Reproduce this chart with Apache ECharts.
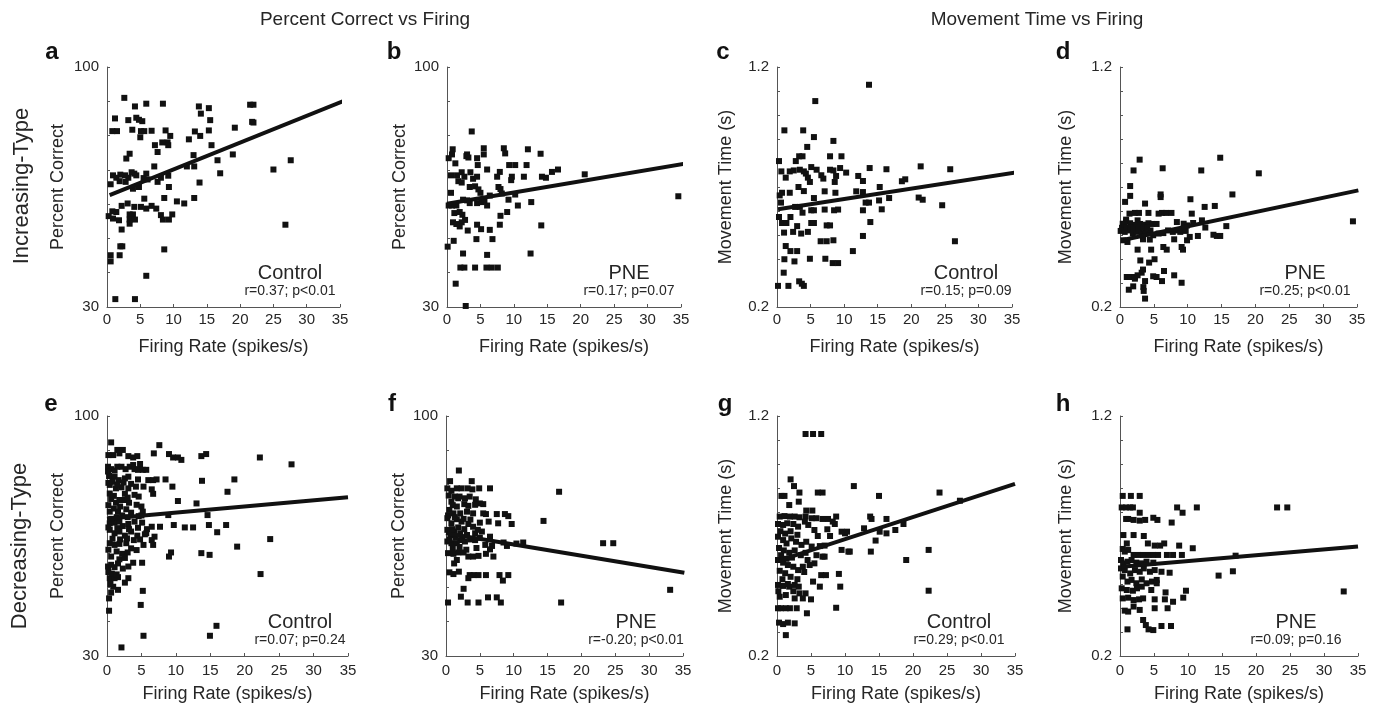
<!DOCTYPE html>
<html>
<head>
<meta charset="utf-8">
<title>Firing rate vs behaviour</title>
<script src="https://cdn.jsdelivr.net/npm/echarts@6/dist/echarts.min.js"></script>
<style>
  html, body { margin: 0; padding: 0; background: #fff; }
  #chart { width: 1378px; height: 707px; }
</style>
</head>
<body>
<div id="chart"></div>
<script>
// firing rate (spikes/s) vs percent correct / movement time, one array per panel
const ptsA = [[2.6,91.0],[4.2,88.5],[5.9,89.3],[8.4,89.3],[1.2,85.0],[3.2,84.5],[4.4,85.2],[4.8,84.6],[5.3,84.2],[0.8,81.3],[1.5,81.3],[3.8,81.7],[5.1,81.3],[5.6,81.3],[5.0,79.5],[6.7,81.4],[8.8,81.5],[9.5,79.9],[9.1,78.0],[8.3,78.0],[7.2,77.2],[7.6,75.2],[9.2,77.2],[3.4,74.7],[2.9,73.3],[7.1,71.0],[13.8,88.5],[14.1,86.4],[15.3,88.0],[15.5,84.5],[15.3,81.5],[13.2,81.2],[14.0,79.9],[12.3,78.9],[15.7,77.2],[13.0,74.3],[16.6,72.8],[18.9,74.5],[19.2,82.3],[21.5,89.0],[22.0,89.0],[21.8,84.0],[22.0,83.8],[27.6,72.8],[25.0,70.1],[26.8,54.0],[17.0,69.0],[13.1,71.0],[12.0,71.0],[13.9,66.3],[13.1,61.8],[11.6,60.2],[10.5,60.8],[8.6,61.8],[9.3,65.0],[9.2,68.3],[7.6,66.5],[8.1,67.7],[5.9,68.9],[5.5,67.6],[4.1,68.9],[4.4,68.4],[3.7,69.3],[3.2,67.7],[2.7,68.4],[2.0,68.6],[0.9,68.4],[1.4,67.7],[0.55,65.8],[2.8,66.5],[3.9,64.5],[4.8,65.0],[5.6,61.6],[6.7,59.5],[5.9,58.7],[5.1,59.2],[4.1,59.2],[3.1,60.2],[2.2,59.5],[1.4,57.7],[0.8,57.9],[0.25,56.5],[0.9,55.8],[1.8,55.3],[3.4,57.0],[3.9,57.0],[3.4,55.5],[4.2,55.5],[3.4,54.3],[2.2,52.6],[7.4,58.7],[8.1,56.8],[8.4,55.5],[9.3,55.5],[9.8,57.0],[2.0,47.7],[2.3,47.7],[0.55,45.1],[1.9,45.1],[0.55,43.3],[8.6,46.8],[5.9,39.1],[1.25,32.3],[4.2,32.3],[1.9,66.7],[6.1,67.2]];
const fitA = [[0.4,62.6],[35.8,90.3]];

const ptsB = [[3.7,81.2],[0.85,76.0],[0.25,73.4],[0.75,74.5],[1.25,71.9],[3.0,74.5],[2.9,74.0],[3.2,73.6],[4.5,73.4],[5.5,76.3],[5.5,74.5],[4.6,71.4],[8.5,76.3],[8.7,74.8],[12.1,76.0],[14.0,74.7],[9.3,71.4],[10.2,71.4],[11.9,71.4],[6.0,70.1],[7.9,69.4],[7.5,68.0],[9.7,68.0],[9.6,67.0],[11.5,68.0],[14.2,68.0],[14.8,67.7],[15.7,69.4],[16.6,70.1],[20.6,68.7],[34.6,62.3],[0.6,68.4],[1.5,68.4],[2.2,69.3],[2.6,68.0],[1.7,66.7],[2.2,66.3],[3.5,69.3],[3.9,67.4],[4.5,68.0],[3.4,65.0],[4.2,65.2],[4.7,64.3],[5.0,63.3],[0.6,63.3],[0.25,59.6],[0.75,59.6],[1.4,59.6],[2.4,61.3],[3.0,61.1],[3.4,60.3],[4.5,60.3],[5.2,60.6],[6.0,59.6],[5.6,61.1],[6.4,62.5],[7.7,65.0],[8.0,64.4],[8.2,63.1],[9.2,61.3],[10.2,62.8],[10.6,59.6],[12.6,60.6],[1.1,57.4],[1.9,57.7],[2.3,56.9],[2.7,55.4],[2.2,54.7],[1.9,53.5],[3.1,52.3],[0.9,54.7],[1.4,54.2],[9.0,57.7],[8.0,56.6],[7.9,54.0],[4.5,54.0],[5.1,52.7],[6.4,52.5],[14.1,53.8],[4.4,49.8],[6.8,49.8],[1.0,49.3],[0.1,47.6],[2.4,45.6],[6.0,45.2],[12.5,45.6],[2.0,41.5],[2.6,41.5],[4.2,41.5],[5.9,41.5],[6.7,41.5],[7.6,41.5],[1.3,36.8],[2.8,30.3]];
const fitB = [[0,60.1],[35.5,71.8]];

const ptsC = [[13.7,1.126],[5.7,1.058],[1.1,0.936],[3.9,0.936],[5.5,0.908],[8.4,0.892],[4.5,0.867],[0.3,0.808],[2.8,0.808],[3.3,0.828],[3.8,0.828],[7.9,0.828],[9.6,0.828],[0.65,0.765],[1.9,0.765],[2.5,0.769],[3.4,0.772],[4.0,0.765],[5.1,0.783],[5.9,0.772],[1.3,0.739],[4.3,0.756],[4.6,0.739],[4.9,0.721],[6.6,0.749],[6.9,0.735],[7.9,0.772],[8.4,0.769],[8.8,0.746],[8.6,0.721],[9.4,0.779],[10.3,0.760],[12.1,0.746],[12.8,0.725],[13.8,0.779],[16.3,0.774],[21.4,0.786],[25.8,0.774],[18.6,0.724],[19.1,0.732],[15.3,0.700],[3.2,0.700],[0.4,0.665],[0.75,0.676],[1.9,0.676],[4.0,0.683],[5.5,0.654],[7.1,0.682],[8.7,0.676],[11.8,0.682],[12.8,0.679],[13.2,0.635],[13.7,0.635],[15.2,0.644],[15.6,0.607],[16.7,0.654],[21.1,0.656],[21.7,0.647],[24.6,0.624],[0.6,0.635],[2.7,0.617],[3.4,0.617],[3.8,0.593],[5.1,0.603],[5.5,0.603],[7.1,0.606],[8.5,0.603],[9.1,0.606],[12.8,0.603],[0.3,0.575],[0.75,0.55],[1.4,0.55],[2.0,0.575],[3.0,0.537],[1.05,0.510],[2.4,0.513],[3.6,0.506],[4.6,0.513],[5.1,0.55],[5.5,0.55],[7.4,0.540],[7.9,0.540],[13.9,0.554],[12.8,0.496],[6.5,0.474],[7.4,0.474],[8.4,0.478],[1.3,0.454],[2.0,0.433],[3.0,0.433],[11.3,0.433],[26.5,0.474],[1.1,0.399],[2.6,0.390],[4.9,0.401],[7.2,0.401],[8.3,0.383],[9.1,0.383],[1.0,0.343],[3.3,0.307],[3.7,0.297],[4.0,0.288],[0.15,0.288],[1.7,0.288]];
const fitC = [[0.15,0.607],[35.5,0.760]];

const ptsD = [[2.9,0.814],[14.8,0.822],[2.0,0.769],[6.3,0.778],[12.0,0.769],[20.5,0.757],[1.5,0.704],[1.5,0.663],[0.75,0.638],[6.0,0.669],[6.0,0.658],[16.6,0.669],[10.4,0.649],[3.7,0.631],[12.5,0.617],[14.0,0.621],[2.2,0.592],[2.8,0.592],[4.2,0.592],[6.2,0.592],[6.8,0.592],[7.6,0.592],[1.4,0.589],[5.7,0.589],[10.6,0.589],[0.9,0.564],[2.6,0.561],[0.4,0.547],[0.9,0.557],[1.5,0.549],[2.3,0.542],[2.95,0.546],[3.6,0.543],[4.2,0.549],[4.8,0.546],[5.4,0.546],[8.4,0.554],[9.4,0.547],[9.9,0.540],[10.8,0.550],[12.1,0.561],[12.6,0.531],[15.7,0.537],[0.1,0.517],[0.7,0.513],[1.2,0.519],[1.9,0.506],[2.5,0.513],[3.2,0.508],[3.8,0.508],[4.5,0.519],[4.9,0.499],[5.7,0.506],[6.4,0.508],[7.1,0.519],[7.8,0.513],[8.5,0.519],[8.9,0.513],[9.7,0.517],[13.8,0.501],[14.3,0.496],[14.8,0.496],[11.5,0.496],[10.3,0.492],[0.5,0.478],[1.1,0.471],[3.4,0.482],[4.4,0.481],[8.0,0.482],[9.9,0.478],[2.6,0.439],[4.6,0.439],[6.4,0.450],[6.9,0.439],[9.1,0.450],[9.3,0.439],[3.0,0.394],[5.1,0.399],[4.3,0.385],[3.4,0.356],[3.2,0.343],[1.0,0.325],[1.5,0.325],[2.2,0.325],[2.6,0.332],[2.2,0.318],[3.7,0.308],[4.9,0.328],[5.4,0.325],[6.5,0.350],[6.2,0.308],[8.0,0.332],[9.1,0.301],[1.3,0.272],[1.95,0.286],[3.45,0.283],[3.5,0.267],[3.7,0.235],[34.4,0.557],[0.3,0.53],[0.6,0.545],[1.0,0.53],[1.6,0.53],[2.0,0.525],[2.8,0.525],[3.5,0.53],[4.0,0.53]];
const fitD = [[0.25,0.478],[35.2,0.686]];

const ptsE = [[0.6,92.3],[1.5,90.1],[2.3,90.1],[1.8,89.1],[0.9,88.6],[0.2,88.6],[3.1,88.3],[3.8,87.9],[4.4,88.3],[6.8,89.1],[7.6,91.5],[9.0,88.9],[9.6,87.9],[10.3,87.9],[10.8,87.2],[13.7,88.3],[14.4,88.9],[22.2,87.9],[26.8,85.9],[0.15,85.2],[0.6,84.5],[1.1,84.1],[1.5,85.2],[0.15,83.8],[2.1,85.2],[2.7,84.5],[3.3,85.2],[3.8,85.7],[4.0,84.5],[4.8,86.0],[4.5,84.3],[5.2,84.3],[5.7,84.3],[0.3,82.5],[1.1,82.3],[1.7,81.3],[2.6,81.8],[3.1,82.3],[4.5,81.5],[6.0,81.3],[6.7,81.3],[7.2,81.5],[8.5,81.5],[13.8,81.1],[18.5,81.5],[0.4,79.9],[1.3,78.9],[2.1,79.2],[3.1,78.9],[4.2,79.4],[5.3,79.4],[9.5,79.4],[6.5,78.6],[6.7,77.3],[17.5,77.9],[0.4,77.4],[1.0,76.7],[2.6,77.3],[4.0,77.0],[10.3,75.2],[13.0,74.5],[1.3,74.7],[2.6,75.5],[1.9,73.6],[3.2,74.7],[4.3,74.1],[0.4,72.1],[1.6,72.1],[2.8,72.8],[3.5,71.8],[5.0,73.6],[5.2,72.1],[14.6,71.1],[8.9,71.1],[0.4,68.7],[1.1,68.9],[1.8,69.2],[3.1,68.5],[4.0,69.2],[5.1,68.9],[6.5,67.7],[7.7,67.7],[9.7,68.2],[11.3,67.5],[12.5,67.5],[14.8,68.2],[16.0,66.1],[17.3,68.2],[23.7,64.1],[18.9,61.9],[0.4,66.8],[1.1,65.8],[1.8,66.3],[2.6,65.1],[3.5,66.3],[4.4,65.1],[5.7,65.8],[6.9,64.8],[6.5,63.8],[0.4,62.9],[1.1,62.4],[1.8,62.7],[2.8,62.9],[3.5,61.4],[4.3,60.9],[5.3,62.4],[6.7,62.4],[9.0,59.0],[9.3,60.2],[13.7,60.0],[14.9,59.5],[0.15,56.1],[0.6,56.6],[1.1,55.9],[1.6,57.0],[3.1,56.1],[3.8,57.2],[5.1,57.2],[22.3,53.9],[0.4,52.7],[1.1,52.7],[1.6,53.0],[2.6,51.4],[3.1,52.7],[0.9,50.2],[1.6,49.3],[0.3,46.8],[0.6,48.5],[5.2,49.0],[4.9,44.9],[0.3,43.2],[15.9,38.8],[5.3,35.9],[14.95,35.9],[2.1,32.5],[0.2,80.5],[0.8,80.8],[1.5,80.0],[2.4,80.6],[3.5,80.2],[0.6,75.8],[1.8,75.5],[3.0,76.2],[4.6,76.5],[0.2,74.0],[1.0,73.0],[2.2,71.0],[3.0,70.5],[4.6,70.8],[0.6,70.0],[1.4,70.5],[0.2,67.5],[1.5,67.3],[2.3,67.9],[3.2,67.0],[4.5,67.4],[5.8,67.0],[0.8,64.2],[1.9,64.0],[2.9,64.3],[3.9,63.8],[4.8,64.0],[5.5,65.5],[0.2,61.0],[1.4,60.5],[2.2,59.8],[3.0,60.2],[0.6,59.0],[1.8,58.2],[2.6,58.6],[0.2,54.5],[0.7,54.0],[1.4,53.8],[2.3,55.5],[0.5,51.0],[5.0,71.0]];
const fitE = [[0,70.0],[35,76.3]];

const ptsF = [[1.9,84.1],[0.6,81.0],[3.8,81.0],[0.2,78.9],[0.8,78.2],[1.6,78.9],[2.3,78.9],[3.2,78.9],[3.9,78.6],[4.9,78.9],[6.5,78.9],[16.7,77.9],[1.3,76.5],[1.8,76.0],[4.4,75.7],[5.0,74.5],[5.5,74.3],[0.8,75.0],[1.6,73.6],[2.7,74.3],[3.3,73.8],[4.3,74.1],[0.5,72.6],[1.1,71.6],[2.1,71.6],[3.1,72.1],[4.0,71.6],[5.5,71.6],[5.9,71.4],[7.5,71.4],[8.7,71.4],[9.2,70.8],[14.4,69.4],[9.7,68.5],[7.7,68.7],[0.2,70.2],[0.8,68.7],[1.6,69.9],[2.3,69.2],[3.3,68.5],[4.0,67.7],[5.0,68.9],[6.3,69.2],[0.2,66.8],[0.7,65.3],[1.2,66.3],[2.1,65.8],[3.1,65.3],[4.3,65.8],[5.3,66.3],[6.5,64.8],[0.2,63.4],[0.8,62.9],[1.6,62.9],[2.1,63.8],[2.8,63.4],[4.3,63.8],[5.8,62.4],[6.8,62.1],[8.5,63.1],[9.0,62.1],[10.4,62.8],[11.4,63.1],[23.2,62.9],[24.7,62.9],[0.3,60.0],[1.1,59.8],[1.8,60.2],[2.6,60.2],[3.3,59.0],[4.0,59.0],[4.8,59.2],[5.9,59.8],[6.5,61.1],[7.0,59.0],[1.2,57.0],[1.6,58.0],[0.5,54.4],[1.1,53.9],[1.9,54.6],[3.3,52.7],[3.5,53.6],[4.1,53.6],[4.8,53.6],[5.9,53.6],[7.9,53.6],[8.4,52.0],[9.2,53.6],[2.6,49.6],[2.2,47.3],[0.3,45.6],[3.2,45.6],[4.8,45.6],[6.2,47.1],[7.5,47.1],[8.1,45.6],[17.0,45.6],[33.1,49.3],[0.4,76.8],[1.0,74.0],[2.0,76.5],[2.8,76.0],[3.5,76.5],[0.3,71.0],[1.3,70.5],[2.6,70.0],[3.6,69.8],[0.9,67.0],[1.8,67.5],[2.7,67.0],[4.7,66.8],[0.5,64.0],[1.4,64.5],[2.4,64.2],[3.6,64.0],[5.0,64.5],[1.0,61.5],[2.0,61.8],[3.0,61.0],[4.5,61.5]];
const fitF = [[0,65.8],[35.2,54.3]];

const ptsG = [[4.2,1.125],[5.3,1.125],[6.5,1.125],[2.0,0.936],[2.5,0.908],[11.3,0.908],[0.65,0.867],[1.1,0.867],[3.3,0.881],[6.0,0.881],[6.7,0.881],[15.0,0.867],[23.9,0.881],[26.9,0.847],[1.8,0.829],[3.2,0.843],[4.3,0.806],[5.2,0.806],[0.4,0.781],[1.1,0.783],[1.9,0.781],[2.6,0.781],[3.3,0.778],[4.2,0.781],[5.1,0.774],[5.8,0.774],[6.7,0.771],[7.5,0.771],[8.7,0.781],[0.15,0.750],[0.9,0.746],[1.5,0.753],[2.4,0.750],[3.1,0.739],[4.1,0.760],[4.6,0.746],[5.5,0.725],[7.4,0.728],[8.5,0.750],[9.5,0.718],[10.0,0.711],[10.3,0.718],[12.8,0.732],[13.7,0.781],[13.9,0.771],[16.1,0.771],[17.4,0.725],[18.6,0.750],[16.1,0.711],[15.1,0.718],[14.5,0.681],[13.8,0.635],[9.5,0.642],[10.5,0.635],[10.7,0.635],[22.3,0.642],[19.0,0.600],[22.3,0.472],[0.15,0.697],[0.9,0.683],[1.4,0.669],[2.1,0.690],[2.8,0.676],[3.6,0.663],[4.3,0.676],[5.1,0.656],[6.3,0.658],[6.7,0.614],[7.0,0.614],[0.15,0.600],[0.9,0.589],[1.6,0.579],[2.4,0.572],[3.1,0.558],[3.8,0.572],[4.8,0.579],[5.5,0.586],[6.5,0.537],[7.2,0.537],[9.1,0.542],[5.3,0.510],[0.15,0.496],[0.9,0.492],[1.8,0.489],[2.6,0.496],[3.2,0.489],[0.4,0.447],[1.3,0.454],[2.6,0.440],[3.3,0.461],[4.2,0.461],[5.0,0.436],[9.3,0.489],[6.3,0.489],[0.15,0.399],[0.6,0.399],[1.3,0.399],[1.9,0.399],[2.9,0.399],[4.4,0.378],[8.7,0.401],[0.3,0.339],[0.9,0.333],[1.6,0.339],[2.6,0.336],[1.3,0.287],[0.5,0.72],[1.2,0.71],[2.0,0.72],[3.0,0.705],[0.3,0.65],[1.0,0.64],[1.8,0.63],[2.6,0.64],[3.5,0.62],[4.2,0.63],[0.6,0.62],[1.4,0.605],[2.2,0.61],[0.4,0.555],[1.2,0.545],[2.0,0.53],[3.0,0.52],[4.0,0.55],[0.8,0.52],[1.6,0.50],[2.4,0.47],[0.2,0.47],[3.8,0.44],[5.8,0.62],[4.5,0.60],[7.0,0.66],[6.0,0.70],[7.8,0.70],[8.2,0.76]];
const fitG = [[0.2,0.596],[35,0.917]];

const ptsH = [[0.4,0.867],[1.6,0.867],[2.9,0.867],[0.25,0.819],[0.9,0.819],[1.5,0.819],[1.9,0.819],[2.9,0.797],[8.4,0.819],[9.2,0.797],[11.3,0.819],[23.1,0.819],[24.6,0.819],[0.9,0.771],[1.2,0.771],[2.0,0.767],[2.9,0.764],[3.7,0.767],[4.9,0.776],[5.5,0.767],[7.6,0.756],[0.5,0.704],[2.0,0.704],[3.5,0.700],[1.0,0.669],[4.1,0.669],[5.1,0.660],[5.9,0.660],[6.5,0.669],[8.7,0.660],[10.7,0.649],[0.4,0.646],[0.7,0.635],[1.2,0.642],[2.0,0.621],[2.7,0.621],[3.4,0.621],[4.2,0.621],[4.9,0.621],[5.6,0.621],[6.9,0.621],[7.8,0.621],[9.1,0.621],[17.0,0.618],[0.15,0.600],[0.5,0.586],[1.1,0.593],[1.7,0.600],[2.4,0.589],[3.2,0.586],[3.9,0.593],[4.9,0.589],[0.15,0.565],[0.7,0.558],[1.5,0.544],[2.2,0.558],[2.9,0.551],[3.5,0.565],[4.4,0.551],[5.1,0.558],[6.1,0.551],[7.3,0.547],[14.5,0.535],[16.6,0.553],[0.4,0.531],[1.1,0.510],[1.7,0.517],[2.4,0.503],[3.2,0.519],[3.9,0.503],[4.7,0.510],[5.4,0.517],[0.25,0.482],[1.0,0.475],[1.9,0.472],[2.5,0.482],[3.2,0.489],[4.6,0.475],[5.4,0.503],[6.7,0.465],[9.7,0.472],[32.9,0.469],[0.4,0.440],[1.2,0.443],[2.0,0.433],[2.8,0.436],[3.4,0.440],[5.1,0.436],[6.6,0.436],[7.8,0.426],[9.3,0.443],[0.7,0.389],[1.2,0.385],[2.0,0.406],[2.9,0.392],[5.1,0.399],[7.0,0.399],[3.4,0.350],[3.8,0.329],[4.2,0.311],[4.9,0.308],[6.1,0.325],[7.5,0.325],[1.1,0.311]];
const fitH = [[0.25,0.572],[35,0.656]];

const rateTicks = [0, 35, 5];          // min, max, step of firing rate axis
const pctTicks = [30, 100, 10];        // percent correct axis
const mtTicks = [0.2, 1.2, 0.1];       // movement time axis
const groups = ['Control', 'PNE', 'Control', 'PNE', 'Control', 'PNE', 'Control', 'PNE'];
const stats = ['r=0.37; p<0.01', 'r=0.17; p=0.07', 'r=0.15; p=0.09', 'r=0.25; p<0.01',
               'r=0.07; p=0.24', 'r=-0.20; p<0.01', 'r=0.29; p<0.01', 'r=0.09; p=0.16'];
const letters = ['a', 'b', 'c', 'd', 'e', 'f', 'g', 'h'];

const FONT = '"Liberation Sans", Arial, Helvetica, sans-serif';
const TXT = '#262626';
const INK = '#111';

// layout of each panel: grid left/top/width, y-axis kind, name gap, label centre x, letter x
const panels = [
  { pts: ptsA, fit: fitA, kind: 'pc', left: 107, top: 67, width: 233, gap: 40, cx: 290, lx: 52 },
  { pts: ptsB, fit: fitB, kind: 'pc', left: 447, top: 67, width: 234, gap: 38, cx: 629, lx: 394 },
  { pts: ptsC, fit: fitC, kind: 'mt', left: 777, top: 67, width: 235, gap: 42, cx: 966, lx: 723 },
  { pts: ptsD, fit: fitD, kind: 'mt', left: 1120, top: 67, width: 237, gap: 45, cx: 1305, lx: 1063 },
  { pts: ptsE, fit: fitE, kind: 'pc', left: 107, top: 416, width: 241, gap: 40, cx: 300, lx: 51 },
  { pts: ptsF, fit: fitF, kind: 'pc', left: 446, top: 416, width: 237, gap: 38, cx: 636, lx: 392 },
  { pts: ptsG, fit: fitG, kind: 'mt', left: 777, top: 416, width: 238, gap: 42, cx: 959, lx: 725 },
  { pts: ptsH, fit: fitH, kind: 'mt', left: 1120, top: 416, width: 238, gap: 45, cx: 1296, lx: 1063 }
];
const H = 240;

const grid = [], xAxis = [], yAxis = [], series = [], graphic = [];

panels.forEach((p, i) => {
  grid.push({ left: p.left, top: p.top, width: p.width, height: H });
  const topRow = i < 4;
  xAxis.push({
    gridIndex: i, type: 'value',
    min: rateTicks[0], max: rateTicks[1], interval: rateTicks[2],
    name: 'Firing Rate (spikes/s)', nameLocation: 'middle', nameGap: topRow ? 31 : 29,
    nameTextStyle: { fontFamily: FONT, fontSize: 18, color: TXT },
    axisLine: { lineStyle: { color: '#555', width: 1 } },
    axisTick: { inside: true, length: 3, lineStyle: { color: '#555' } },
    axisLabel: { fontFamily: FONT, fontSize: 15, color: TXT, margin: topRow ? 5 : 7 },
    splitLine: { show: false }
  });
  const t = p.kind === 'pc' ? pctTicks : mtTicks;
  yAxis.push({
    gridIndex: i, type: 'value',
    min: t[0], max: t[1], interval: t[2],
    name: p.kind === 'pc' ? 'Percent Correct' : 'Movement Time (s)',
    nameLocation: 'middle', nameRotate: 90, nameGap: p.gap,
    nameTextStyle: { fontFamily: FONT, fontSize: 18, color: TXT },
    axisLine: { show: true, lineStyle: { color: '#555', width: 1 } },
    axisTick: { show: true, inside: true, length: 3, lineStyle: { color: '#555' } },
    axisLabel: {
      fontFamily: FONT, fontSize: 15, color: TXT, margin: 8,
      formatter: v => (Math.abs(v - t[0]) < 1e-6 || Math.abs(v - t[1]) < 1e-6)
        ? (p.kind === 'pc' ? String(Math.round(v)) : v.toFixed(1)) : ''
    },
    splitLine: { show: false }
  });
  series.push({
    type: 'scatter', xAxisIndex: i, yAxisIndex: i,
    data: p.pts, symbol: 'rect', symbolSize: 6,
    itemStyle: { color: INK, opacity: 1 }
  });
  series.push({
    type: 'line', xAxisIndex: i, yAxisIndex: i,
    data: p.fit, symbol: 'none', clip: false, z: 3,
    lineStyle: { color: INK, width: 4 }
  });

  const base = p.top + H;
  graphic.push({
    type: 'text', x: p.cx, y: base - 34,
    style: { text: groups[i], font: '20px ' + FONT, fill: TXT, align: 'center', verticalAlign: 'middle', textAlign: 'center', textVerticalAlign: 'middle' }
  });
  graphic.push({
    type: 'text', x: p.cx, y: base - 16,
    style: { text: stats[i], font: '14px ' + FONT, fill: TXT, align: 'center', verticalAlign: 'middle', textAlign: 'center', textVerticalAlign: 'middle' }
  });
  graphic.push({
    type: 'text', x: p.lx, y: topRow ? 52 : 404,
    style: { text: letters[i], font: 'bold 24px ' + FONT, fill: '#111', align: 'center', verticalAlign: 'middle', textAlign: 'center', textVerticalAlign: 'middle' }
  });
});

// column headers and row labels
graphic.push({
  type: 'text', x: 365, y: 20,
  style: { text: 'Percent Correct vs Firing', font: '19px ' + FONT, fill: TXT, align: 'center', verticalAlign: 'middle', textAlign: 'center', textVerticalAlign: 'middle' }
});
graphic.push({
  type: 'text', x: 1037, y: 20,
  style: { text: 'Movement Time vs Firing', font: '19px ' + FONT, fill: TXT, align: 'center', verticalAlign: 'middle', textAlign: 'center', textVerticalAlign: 'middle' }
});
graphic.push({
  type: 'text', x: 22, y: 186, rotation: Math.PI / 2,
  style: { text: 'Increasing-Type', font: '22px ' + FONT, fill: TXT, align: 'center', verticalAlign: 'middle', textAlign: 'center', textVerticalAlign: 'middle' }
});
graphic.push({
  type: 'text', x: 20, y: 546, rotation: Math.PI / 2,
  style: { text: 'Decreasing-Type', font: '22px ' + FONT, fill: TXT, align: 'center', verticalAlign: 'middle', textAlign: 'center', textVerticalAlign: 'middle' }
});

const chart = echarts.init(document.getElementById('chart'));
chart.setOption({
  animation: false,
  backgroundColor: '#fff',
  grid, xAxis, yAxis, series, graphic
});
</script>
</body>
</html>
